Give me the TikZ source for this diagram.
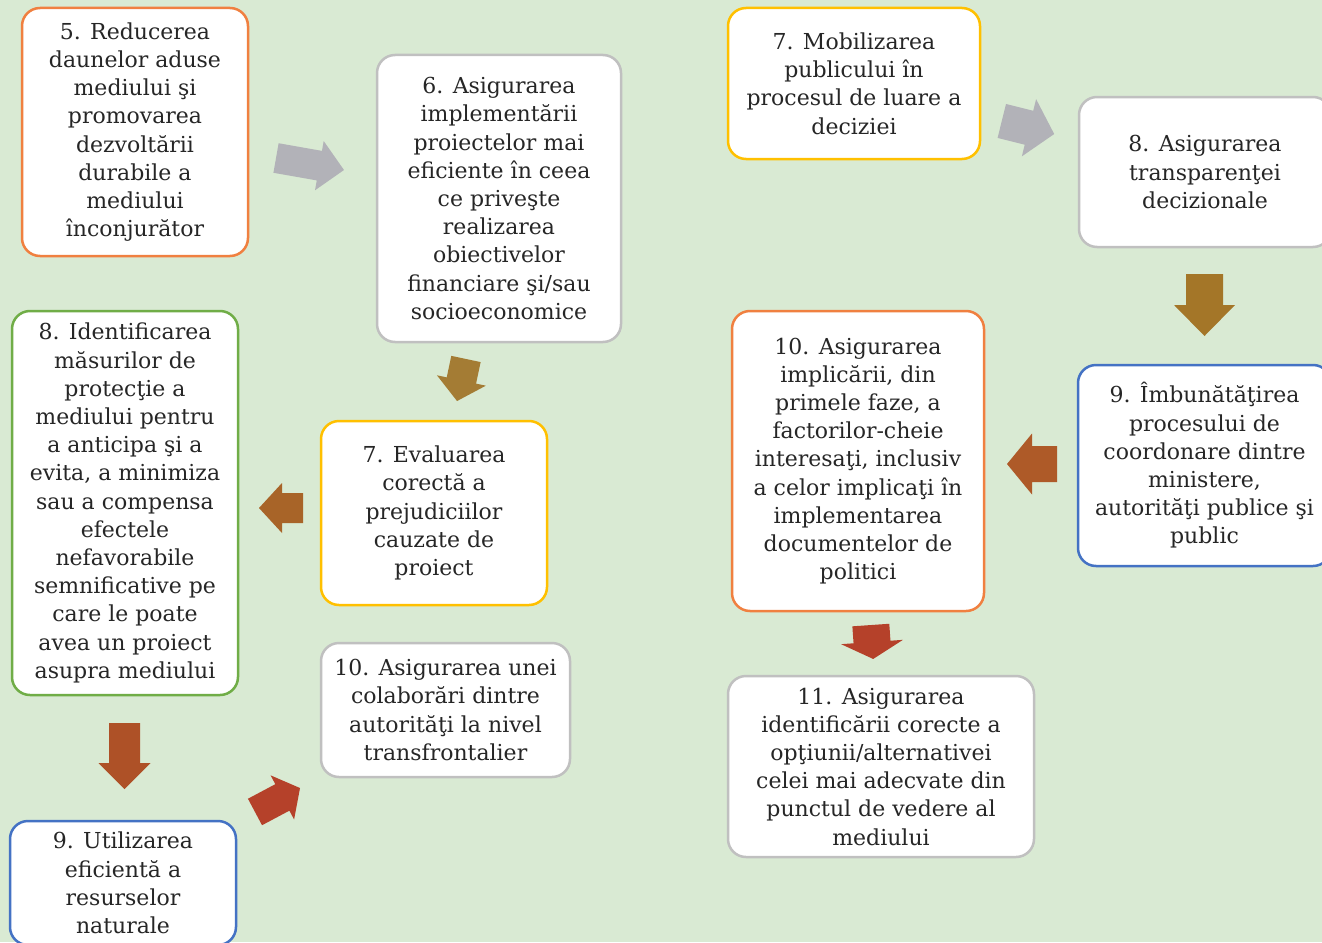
\documentclass[tikz,border=0pt]{standalone}
\usepackage{fontspec}
\setmainfont{DejaVu Serif}
\definecolor{bg}{RGB}{217,234,211}
\definecolor{cOrange}{RGB}{240,128,64}
\definecolor{cGray}{RGB}{192,192,192}
\definecolor{cGreen}{RGB}{112,173,71}
\definecolor{cYellow}{RGB}{255,192,0}
\definecolor{cBlue}{RGB}{68,114,196}
\definecolor{aGray}{RGB}{178,178,184}
\definecolor{aOlive}{RGB}{164,124,52}
\definecolor{aBrown}{RGB}{168,100,40}
\definecolor{aRust}{RGB}{174,81,39}
\definecolor{aRed}{RGB}{181,65,42}
\definecolor{aOchre}{RGB}{164,118,40}
\definecolor{aBrown2}{RGB}{174,90,40}
\newcommand{\blockarrow}[8]{%
  \begin{scope}[shift={(#1,#2)},rotate=#3]
    \fill[#8] ({-#4/2},{-#5/2}) -- ({#4/2-#7},{-#5/2}) -- ({#4/2-#7},{-#6/2}) -- ({#4/2},0)
      -- ({#4/2-#7},{#6/2}) -- ({#4/2-#7},{#5/2}) -- ({-#4/2},{#5/2}) -- cycle;
  \end{scope}}
\begin{document}
\begin{tikzpicture}[x=1pt,y=1pt,
  box/.style={draw=#1, fill=white, line width=2.5pt, rounded corners=18pt,
    align=center, inner sep=0pt, font=\fontsize{22}{28.2}\selectfont, text=black!85}]
\fill[bg] (0,0) rectangle (1322,-942);
\useasboundingbox (0,0) rectangle (1322,-942);

\node[box=cOrange, minimum width=226, minimum height=248] (b5) at (135,-132)
  {5. Reducerea\\daunelor aduse\\mediului şi\\promovarea\\dezvoltării\\durabile a\\mediului\\înconjurător};
\node[box=cGray, minimum width=244, minimum height=287] (b6) at (499,-198.5)
  {6. Asigurarea\\implementării\\proiectelor mai\\eficiente în ceea\\ce priveşte\\realizarea\\obiectivelor\\financiare şi/sau\\socioeconomice};
\node[box=cGreen, minimum width=226, minimum height=384] (b8l) at (125,-503)
  {8. Identificarea\\măsurilor de\\protecţie a\\mediului pentru\\a anticipa şi a\\evita, a minimiza\\sau a compensa\\efectele\\nefavorabile\\semnificative pe\\care le poate\\avea un proiect\\asupra mediului};
\node[box=cYellow, minimum width=226, minimum height=184] (b7e) at (434,-513)
  {7. Evaluarea\\corectă a\\prejudiciilor\\cauzate de\\proiect};
\node[box=cGray, minimum width=249, minimum height=134] (b10l) at (445.5,-710)
  {10. Asigurarea unei\\colaborări dintre\\autorităţi la nivel\\transfrontalier};
\node[box=cBlue, minimum width=226, minimum height=124] (b9l) at (123,-883)
  {9. Utilizarea\\eficientă a\\resurselor\\naturale};
\node[box=cYellow, minimum width=252, minimum height=151] (b7m) at (854,-83.5)
  {7. Mobilizarea\\publicului în\\procesul de luare a\\deciziei};
\node[box=cGray, minimum width=252, minimum height=150] (b8r) at (1205,-172)
  {8. Asigurarea\\transparenţei\\decizionale};
\node[box=cBlue, minimum width=253, minimum height=201] (b9r) at (1204.5,-465.5)
  {9. Îmbunătăţirea\\procesului de\\coordonare dintre\\ministere,\\autorităţi publice şi\\public};
\node[box=cOrange, minimum width=252, minimum height=300] (b10r) at (858,-461)
  {10. Asigurarea\\implicării, din\\primele faze, a\\factorilor-cheie\\interesaţi, inclusiv\\a celor implicaţi în\\implementarea\\documentelor de\\politici};
\node[box=cGray, minimum width=306, minimum height=181] (b11) at (881,-766.5)
  {11. Asigurarea\\identificării corecte a\\opţiunii/alternativei\\celei mai adecvate din\\punctul de vedere al\\mediului};

\blockarrow{310}{-164}{-10}{69}{30}{50}{25}{aGray}
\blockarrow{461.5}{-380}{-102}{43}{30}{50}{21}{aOlive}
\blockarrow{281}{-508}{180}{44}{30}{50}{23}{aBrown}
\blockarrow{124.5}{-756}{-90}{66}{31}{52}{26}{aRust}
\blockarrow{277.5}{-800}{28}{51}{30}{50}{20}{aRed}
\blockarrow{1028}{-127.5}{-14}{54}{35}{59}{26}{aGray}
\blockarrow{1204.5}{-305}{-90}{62}{37}{61}{31}{aOchre}
\blockarrow{1032}{-464}{180}{50}{36}{61}{25}{aBrown2}
\blockarrow{872}{-642}{-86}{34}{37}{62}{17}{aRed}
\end{tikzpicture}
\end{document}
